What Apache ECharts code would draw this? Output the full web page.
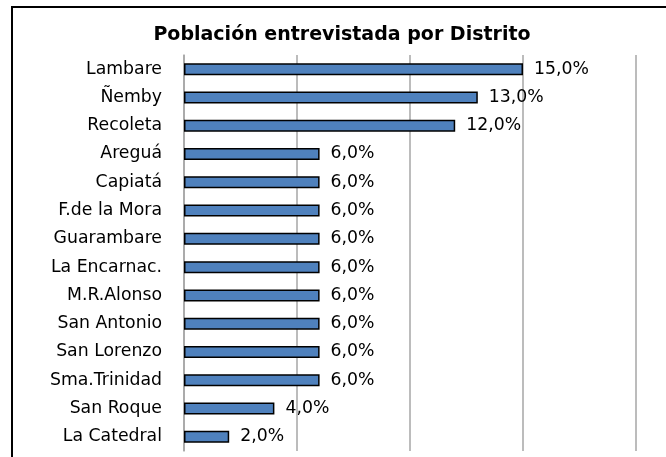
<!DOCTYPE html>
<html>
<head>
<meta charset="utf-8">
<title>Población entrevistada por Distrito</title>
<script src="https://cdn.jsdelivr.net/npm/echarts@6/dist/echarts.min.js"></script>
<style>
  html, body { margin: 0; padding: 0; background: #fff; }
  #main { width: 666px; height: 457px; }
</style>
</head>
<body>
<div id="main"></div>
<script>
const distritos = ['Lambare', 'Ñemby', 'Recoleta', 'Areguá', 'Capiatá', 'F.de la Mora', 'Guarambare',
  'La Encarnac.', 'M.R.Alonso', 'San Antonio', 'San Lorenzo', 'Sma.Trinidad', 'San Roque', 'La Catedral']
const porcentajes = [15, 13, 12, 6, 6, 6, 6, 6, 6, 6, 6, 6, 4, 2]
const ejeMax = 20
const ejePaso = 5

const font = '"DejaVu Sans", "Noto Sans", sans-serif'
const chart = echarts.init(document.getElementById('main'))

const option = {
  animation: false,
  backgroundColor: '#fff',
  title: {
    text: 'Población entrevistada por Distrito',
    left: 342,
    top: 26,
    textAlign: 'center',
    padding: 0,
    textStyle: { fontFamily: font, fontSize: 19, fontWeight: 'bold', color: '#000' }
  },
  // marco del gráfico (solo arriba e izquierda quedan visibles)
  graphic: [
    { type: 'line', shape: { x1: 12, y1: 7, x2: 666, y2: 7 }, style: { stroke: '#000', lineWidth: 2 } },
    { type: 'line', shape: { x1: 12, y1: 6, x2: 12, y2: 457 }, style: { stroke: '#000', lineWidth: 2 } }
  ],
  grid: { left: 184, right: 30, top: 55, bottom: 6 },
  xAxis: {
    type: 'value',
    min: 0,
    max: ejeMax,
    interval: ejePaso,
    axisLine: { show: false },
    axisTick: { show: false },
    axisLabel: { show: false },
    splitLine: { lineStyle: { color: '#a6a6a6', width: 1.5 } }
  },
  yAxis: {
    type: 'category',
    data: distritos,
    inverse: true,
    axisLine: { lineStyle: { color: '#a6a6a6', width: 1.5 } },
    axisTick: { length: 6, lineStyle: { color: '#a6a6a6', width: 1.5 } },
    axisLabel: { margin: 22, fontFamily: font, fontSize: 17.3, color: '#000' }
  },
  series: [{
    type: 'bar',
    data: porcentajes,
    barWidth: 12,
    itemStyle: { color: '#4f81bd', borderColor: '#000', borderWidth: 1.5 },
    label: {
      show: true,
      position: 'right',
      distance: 11,
      fontFamily: font,
      fontSize: 17.3,
      color: '#000',
      formatter: p => p.value.toFixed(1).replace('.', ',') + '%'
    }
  }]
}

chart.setOption(option)
</script>
</body>
</html>
